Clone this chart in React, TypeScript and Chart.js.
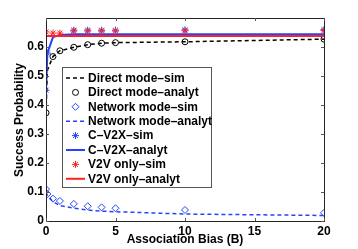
import React, { useEffect, useRef } from "react";
import { Chart, registerables } from "chart.js";

Chart.register(...registerables);

const biasValues = [0, 0.1, 0.5, 1, 2, 3, 4, 5, 10, 20];
const directSim = [0.373, 0.52, 0.567, 0.587, 0.599, 0.608, 0.613, 0.615, 0.618, 0.627];
const directAnalyt = [0.373, null, 0.567, 0.587, 0.599, 0.608, 0.613, 0.615, 0.618, 0.627];
const networkSim = [0.11, 0.093, 0.077, 0.069, 0.059, 0.051, 0.047, 0.044, 0.038, 0.028];
const networkAnalyt = [0.1, 0.088, 0.067, 0.053, 0.044, 0.038, 0.034, 0.032, 0.024, 0.019];
const cv2xSim = [0.451, 0.579, null, null, 0.658, 0.658, 0.658, 0.658, 0.659, 0.66];
const cv2xAnalyt = [0.451, 0.579, 0.634, 0.641, 0.644, 0.644, 0.644, 0.644, 0.644, 0.644];
const v2vSim = [0.652, null, 0.648, 0.648, 0.655, 0.655, 0.655, 0.655, 0.656, 0.657];
const v2vAnalyt = [0.638, 0.638, 0.638, 0.638, 0.638, 0.638, 0.638, 0.638, 0.638, 0.638];

const xTicks = [0, 5, 10, 15, 20];
const yTicks = [0, 0.1, 0.2, 0.3, 0.4, 0.5, 0.6];

const legendLabels = [
  "Direct mode–sim",
  "Direct mode–analyt",
  "Network mode–sim",
  "Network mode–analyt",
  "C–V2X–sim",
  "C–V2X–analyt",
  "V2V only–sim",
  "V2V only–analyt",
];
const xTitle = "Association Bias (B)";
const yTitle = "Success Probability";

const BLUE = "#2244ff";
const RED = "#ff2222";
const FONT = "'Liberation Sans', Arial, Helvetica, sans-serif";

function pts(vals: (number | null)[]) {
  return biasValues.map((x, i) => ({ x, y: vals[i] }));
}

type Kind = { line?: boolean; dash?: number[]; color: string; marker?: string; radius?: number };
const kinds: Kind[] = [
  { line: true, dash: [4, 3], color: "#000000" },
  { marker: "circle", color: "#000000", radius: 3 },
  { marker: "rectRot", color: BLUE, radius: 3.5 },
  { line: true, dash: [4, 3], color: BLUE },
  { marker: "star", color: BLUE, radius: 3.5 },
  { line: true, color: BLUE },
  { marker: "star", color: RED, radius: 3.5 },
  { line: true, color: RED },
];
const seriesValues = [directSim, directAnalyt, networkSim, networkAnalyt, cv2xSim, cv2xAnalyt, v2vSim, v2vAnalyt];

function drawMarker(ctx: CanvasRenderingContext2D, style: string, r: number, x: number, y: number) {
  ctx.beginPath();
  if (style === "circle") {
    ctx.arc(x, y, r, 0, Math.PI * 2);
  } else if (style === "rectRot") {
    ctx.moveTo(x, y - r);
    ctx.lineTo(x + r, y);
    ctx.lineTo(x, y + r);
    ctx.lineTo(x - r, y);
    ctx.closePath();
  } else {
    const d = r * Math.SQRT1_2;
    ctx.moveTo(x - r, y);
    ctx.lineTo(x + r, y);
    ctx.moveTo(x, y - r);
    ctx.lineTo(x, y + r);
    ctx.moveTo(x - d, y - d);
    ctx.lineTo(x + d, y + d);
    ctx.moveTo(x - d, y + d);
    ctx.lineTo(x + d, y - d);
  }
  ctx.stroke();
}

const framePlugin = {
  id: "framePlugin",
  afterDraw(chart: any) {
    const ctx = chart.ctx as CanvasRenderingContext2D;
    const { left, right, top, bottom } = chart.chartArea;
    const xs = chart.scales.x;
    const ys = chart.scales.y;
    ctx.save();
    ctx.strokeStyle = "#262626";
    ctx.lineWidth = 1;
    ctx.strokeRect(Math.round(left) + 0.5, Math.round(top) + 0.5, Math.round(right - left), Math.round(bottom - top));
    ctx.strokeStyle = "#555";
    ctx.beginPath();
    xTicks.forEach((v) => {
      const px = Math.round(xs.getPixelForValue(v)) + 0.5;
      ctx.moveTo(px, bottom);
      ctx.lineTo(px, bottom - 3);
      ctx.moveTo(px, top);
      ctx.lineTo(px, top + 3);
    });
    yTicks.forEach((v) => {
      const py = Math.round(ys.getPixelForValue(v)) + 0.5;
      ctx.moveTo(left, py);
      ctx.lineTo(left + 3, py);
      ctx.moveTo(right, py);
      ctx.lineTo(right - 3, py);
    });
    ctx.stroke();

    // axis titles
    ctx.fillStyle = "#000";
    ctx.font = `bold 12px ${FONT}`;
    ctx.textAlign = "center";
    ctx.textBaseline = "middle";
    ctx.fillText(xTitle, 185, 240);
    ctx.save();
    ctx.translate(19.5, 120);
    ctx.rotate(-Math.PI / 2);
    ctx.fillText(yTitle, 0, 0);
    ctx.restore();

    // legend
    const bx = 62, by = 67, bw = 149, bh = 120;
    ctx.fillStyle = "#fff";
    ctx.fillRect(bx, by, bw, bh);
    ctx.strokeStyle = "#555";
    ctx.strokeRect(bx + 0.5, by + 0.5, bw, bh);
    legendLabels.forEach((label, i) => {
      const cy = 78 + i * 14.4;
      const k = kinds[i];
      ctx.save();
      ctx.strokeStyle = k.color;
      if (k.line) {
        ctx.lineWidth = k.dash ? 1.5 : 2;
        ctx.setLineDash(k.dash || []);
        ctx.beginPath();
        ctx.moveTo(66, cy);
        ctx.lineTo(85, cy);
        ctx.stroke();
      } else if (k.marker) {
        ctx.lineWidth = 1;
        drawMarker(ctx, k.marker, k.radius || 3, 75.5, cy);
      }
      ctx.restore();
      ctx.fillStyle = "#000";
      ctx.font = `bold 12px ${FONT}`;
      ctx.textAlign = "left";
      ctx.textBaseline = "middle";
      ctx.fillText(label, 88, cy + 0.5);
    });
    ctx.restore();
  },
};

export default function App() {
  const ref = useRef<HTMLCanvasElement | null>(null);
  useEffect(() => {
    if (!ref.current) return;
    const datasets = kinds.map((k, i) => ({
      label: legendLabels[i],
      data: pts(seriesValues[i]),
      showLine: !!k.line,
      borderColor: k.color,
      backgroundColor: "rgba(0,0,0,0)",
      borderWidth: k.line ? (k.dash ? 1.5 : 2) : 1,
      borderDash: k.dash || [],
      pointStyle: k.marker || "circle",
      pointRadius: k.marker ? k.radius : 0,
      pointBorderWidth: 1,
      pointBorderColor: k.color,
      pointBackgroundColor: "rgba(0,0,0,0)",
      spanGaps: true,
      order: 10 - i,
    }));
    const chart = new Chart(ref.current, {
      type: "scatter",
      data: { datasets },
      plugins: [framePlugin],
      options: {
        animation: false,
        responsive: false,
        devicePixelRatio: 1,
        layout: { padding: { top: 18, right: 34, left: 0, bottom: 0 } },
        plugins: { legend: { display: false }, tooltip: { enabled: false } },
        scales: {
          x: {
            type: "linear",
            min: 0,
            max: 20,
            grid: { display: false, drawTicks: false },
            border: { display: false },
            afterFit: (s: any) => { s.height = 28; },
            afterBuildTicks: (s: any) => { s.ticks = xTicks.map((v) => ({ value: v })); },
            ticks: { color: "#000", font: { family: FONT, size: 12, weight: "bold" }, padding: 3, maxRotation: 0 },
          },
          y: {
            type: "linear",
            min: 0,
            max: 0.7,
            grid: { display: false, drawTicks: false },
            border: { display: false },
            afterFit: (s: any) => { s.width = 46; },
            afterBuildTicks: (s: any) => { s.ticks = yTicks.map((v) => ({ value: v })); },
            ticks: {
              color: "#000",
              font: { family: FONT, size: 12, weight: "bold" },
              padding: 2,
              callback: (v: any) => String(Math.round(Number(v) * 10) / 10),
            },
          },
        },
      } as any,
    });
    return () => chart.destroy();
  }, []);
  return (
    <div style={{ position: "fixed", left: 0, top: 0, width: 358, height: 249, background: "#fff" }}>
      <canvas ref={ref} width={358} height={249} style={{ width: 358, height: 249 }} />
    </div>
  );
}
